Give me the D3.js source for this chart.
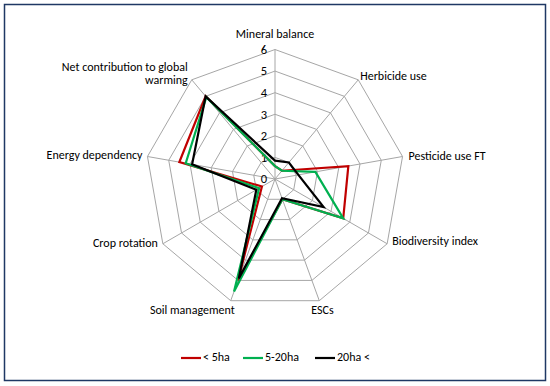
<!DOCTYPE html>
<html>
<head>
<meta charset="utf-8">
<script src="https://cdn.jsdelivr.net/npm/d3@7"></script>
<style>
  body { margin: 0; background: #fff; }
  svg { font-family: Carlito, Lato, sans-serif; }
</style>
</head>
<body>
<script>
const axes = ["Mineral balance", "Herbicide use", "Pesticide use FT", "Biodiversity index",
  "ESCs", "Soil management", "Crop rotation", "Energy dependency",
  "Net contribution to global warming"];
const seriesNames = ["< 5ha", "5-20ha", "20ha <"];
const small = [0.6, 0.5, 3.45, 3.65, 1.0, 5.0, 0.7, 4.5, 5.0];
const medium = [0.6, 0.5, 1.9, 3.65, 1.0, 5.55, 0.85, 4.2, 4.95];
const large = [0.85, 1.0, 1.1, 2.6, 0.95, 4.9, 1.0, 3.9, 5.0];
const ticks = [0, 1, 2, 3, 4, 5, 6];

const width = 550;
const height = 386;
const cx = 275, cy = 179;
const R = 129.5;

const colors = ["#c00000", "#00b050", "#000000"];
const series = [small, medium, large];

const svg = d3.select("body").append("svg")
    .attr("width", width)
    .attr("height", height);

// chart frame
svg.append("rect")
    .attr("x", 4.5).attr("y", 4.5)
    .attr("width", 541).attr("height", 376)
    .attr("fill", "none")
    .attr("stroke", "#1f3864")
    .attr("stroke-width", 1.5);

const g = svg.append("g")
    .attr("transform", `translate(${cx},${cy})`);

const r = d3.scaleLinear().domain([0, 6]).range([0, R]);
const angle = d3.scaleLinear().domain([0, axes.length]).range([0, 2 * Math.PI]);

const radial = d3.lineRadial()
    .angle((d, i) => angle(i))
    .radius(d => r(d))
    .curve(d3.curveLinearClosed);

// grid rings
g.selectAll(".ring")
    .data(ticks.slice(1))
    .join("path")
    .attr("d", t => radial(axes.map(() => t)))
    .attr("fill", "none")
    .attr("stroke", "#a6a6a6")
    .attr("stroke-width", 1);

// spokes
g.selectAll(".spoke")
    .data(axes)
    .join("line")
    .attr("x1", 0).attr("y1", 0)
    .attr("x2", (d, i) => r(6) * Math.sin(angle(i)))
    .attr("y2", (d, i) => -r(6) * Math.cos(angle(i)))
    .attr("stroke", "#a6a6a6")
    .attr("stroke-width", 1);

// tick labels
g.selectAll(".tick")
    .data(ticks)
    .join("text")
    .attr("x", -8)
    .attr("y", t => -r(t))
    .attr("dy", "0.35em")
    .attr("text-anchor", "end")
    .attr("font-size", 12.5)
    .attr("fill", "#000")
    .text(t => t);

// axis labels
const labelPos = [
  {dx: 0, dy: -14, anchor: "middle"},
  {dx: 2, dy: -3, anchor: "start"},
  {dx: 6, dy: 1, anchor: "start"},
  {dx: 5, dy: -2, anchor: "start"},
  {dx: -8, dy: 10, anchor: "start"},
  {dx: 4, dy: 10, anchor: "end"},
  {dx: -5, dy: 0, anchor: "end"},
  {dx: -5, dy: 0, anchor: "end"},
  {dx: -4, dy: -12, anchor: "end"}
];

axes.forEach((name, i) => {
  const x = r(6) * Math.sin(angle(i)) + labelPos[i].dx;
  const y = -r(6) * Math.cos(angle(i)) + labelPos[i].dy;
  const t = g.append("text")
      .attr("x", x)
      .attr("y", y)
      .attr("text-anchor", labelPos[i].anchor)
      .attr("dominant-baseline", "middle")
      .attr("font-size", 12)
      .attr("fill", "#000");
  if (name.startsWith("Net contribution")) {
    t.append("tspan").attr("x", x).text("Net contribution to global");
    t.append("tspan").attr("x", x).attr("dy", 13).text("warming");
  } else {
    t.text(name);
  }
});

// series
g.selectAll(".series")
    .data(series)
    .join("path")
    .attr("d", d => radial(d))
    .attr("fill", "none")
    .attr("stroke", (d, i) => colors[i])
    .attr("stroke-width", 2.2)
    .attr("stroke-linejoin", "miter");

// legend
const legend = svg.append("g")
    .attr("transform", "translate(181,358)");

const offsets = [0, 62, 134];
seriesNames.forEach((name, i) => {
  const item = legend.append("g").attr("transform", `translate(${offsets[i]},0)`);
  item.append("line")
      .attr("x1", 0).attr("x2", 20)
      .attr("y1", 0).attr("y2", 0)
      .attr("stroke", colors[i])
      .attr("stroke-width", 2.2);
  item.append("text")
      .attr("x", 22)
      .attr("y", 0)
      .attr("dominant-baseline", "middle")
      .attr("font-size", 12)
      .text(name);
});
</script>
</body>
</html>
